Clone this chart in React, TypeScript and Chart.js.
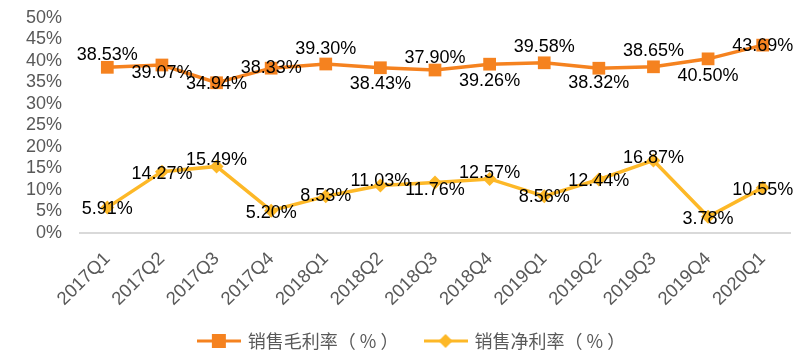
import React, { useEffect, useRef } from "react";
import { Chart, registerables } from "chart.js";

Chart.register(...registerables);

const categories = [
  "2017Q1", "2017Q2", "2017Q3", "2017Q4",
  "2018Q1", "2018Q2", "2018Q3", "2018Q4",
  "2019Q1", "2019Q2", "2019Q3", "2019Q4", "2020Q1",
];
const grossMargin = [38.53, 39.07, 34.94, 38.33, 39.3, 38.43, 37.9, 39.26, 39.58, 38.32, 38.65, 40.5, 43.69];
const netMargin = [5.91, 14.27, 15.49, 5.2, 8.53, 11.03, 11.76, 12.57, 8.56, 12.44, 16.87, 3.78, 10.55];
const seriesNames = ["销售毛利率（ % ）", "销售净利率（ % ）"];
const yTicks = [0, 5, 10, 15, 20, 25, 30, 35, 40, 45, 50];

// label placement styles (vertical offset in px relative to each point)
const grossLabelShift = [-12, 8, 1, 0, -15, 16, -12, 17, -16, 15, -16, 17, 1];
const netLabelShift = [1, 2, -6, 2, 0, -5, 8, -6, 1, 2, -2, 2, 2];

const ORANGE = "#F5821F";
const YELLOW = "#FDB827";
const GRAY = "#595959";

function makeLegendIcon(color: string, kind: "square" | "diamond") {
  const c = document.createElement("canvas");
  c.width = 44;
  c.height = 16;
  const ctx = c.getContext("2d")!;
  ctx.strokeStyle = color;
  ctx.lineWidth = 3;
  ctx.beginPath();
  ctx.moveTo(0, 8);
  ctx.lineTo(44, 8);
  ctx.stroke();
  ctx.fillStyle = color;
  if (kind === "square") {
    ctx.fillRect(22 - 7, 8 - 7, 14, 14);
  } else {
    ctx.beginPath();
    ctx.moveTo(22, 1);
    ctx.lineTo(29, 8);
    ctx.lineTo(22, 15);
    ctx.lineTo(15, 8);
    ctx.closePath();
    ctx.fill();
  }
  return c;
}

const dataLabelPlugin = {
  id: "dataLabels",
  afterDatasetsDraw(chart: any) {
    const ctx = chart.ctx;
    const shifts = [grossLabelShift, netLabelShift];
    ctx.save();
    ctx.font = "18px 'Liberation Sans', Arial, sans-serif";
    ctx.fillStyle = "#000000";
    ctx.textAlign = "center";
    ctx.textBaseline = "middle";
    chart.data.datasets.forEach((ds: any, di: number) => {
      const meta = chart.getDatasetMeta(di);
      meta.data.forEach((pt: any, i: number) => {
        const v = ds.data[i] as number;
        ctx.fillText(v.toFixed(2) + "%", pt.x, pt.y + shifts[di][i]);
      });
    });
    ctx.restore();
  },
};

const legendFitPlugin = {
  id: "legendFit",
  afterInit(chart: any) {
    const lg = chart.legend;
    if (!lg) return;
    const orig = lg.fit;
    lg.fit = function () {
      orig.call(this);
      this.height = 40;
    };
  },
  afterLayout(chart: any) {
    const lg = chart.legend;
    if (!lg) return;
    lg.left += 17;
    lg.right += 17;
  },
};

export default function App() {
  const ref = useRef<HTMLCanvasElement | null>(null);
  useEffect(() => {
    document.body.style.margin = "0";
    const icons = [makeLegendIcon(ORANGE, "square"), makeLegendIcon(YELLOW, "diamond")];
    const chart = new Chart(ref.current!, {
      type: "line",
      data: {
        labels: categories,
        datasets: [
          {
            label: seriesNames[0],
            data: grossMargin,
            borderColor: ORANGE,
            backgroundColor: ORANGE,
            borderWidth: 3.5,
            pointStyle: "rect",
            pointRadius: 9,
            pointBorderWidth: 0,
            tension: 0,
          },
          {
            label: seriesNames[1],
            data: netMargin,
            borderColor: YELLOW,
            backgroundColor: YELLOW,
            borderWidth: 3.5,
            pointStyle: "rectRot",
            pointRadius: 7,
            pointBorderWidth: 0,
            tension: 0,
          },
        ],
      },
      options: {
        animation: false,
        responsive: false,
        layout: { padding: { left: 0, right: 10, top: 18, bottom: 0 } },
        plugins: {
          tooltip: { enabled: false },
          legend: {
            position: "bottom",
            labels: {
              usePointStyle: true,
              pointStyleWidth: 40,
              padding: 10,
              color: GRAY,
              font: { family: "'Noto Sans CJK SC', sans-serif", size: 18 },
              generateLabels(ch: any) {
                const items = Chart.defaults.plugins.legend.labels.generateLabels(ch);
                return items.map((it: any, i: number) => ({
                  ...it,
                  pointStyle: icons[i],
                  text: i === 0 ? it.text + "\u3000  " : it.text,
                }));
              },
            },
          },
        },
        scales: {
          x: {
            offset: true,
            grid: { display: false, drawTicks: false, offset: true },
            border: { display: true, color: "#D9D9D9", width: 2 },
            ticks: {
              color: GRAY,
              font: { family: "'Liberation Sans', Arial, sans-serif", size: 18.5 },
              minRotation: 45,
              maxRotation: 45,
              autoSkip: false,
              padding: 15,
            },
            afterFit(scale: any) {
              scale.height = 89;
            },
          },
          y: {
            min: 0,
            max: 50,
            grid: { display: false, drawTicks: false },
            border: { display: false },
            afterBuildTicks(scale: any) {
              scale.ticks = yTicks.map((v) => ({ value: v }));
            },
            ticks: {
              color: GRAY,
              autoSkip: false,
              font: { family: "'Liberation Sans', Arial, sans-serif", size: 18 },
              padding: 18,
              callback: (v: any) => v + "%",
            },
            afterFit(scale: any) {
              scale.width = 80;
              scale.paddingTop = 0;
              scale.paddingBottom = 0;
            },
          },
        },
      },
      plugins: [dataLabelPlugin, legendFitPlugin],
    });
    return () => chart.destroy();
  }, []);
  return (
    <div style={{ width: 800, height: 362, background: "#fff" }}>
      <canvas ref={ref} width={800} height={362} style={{ display: "block" }} />
    </div>
  );
}
